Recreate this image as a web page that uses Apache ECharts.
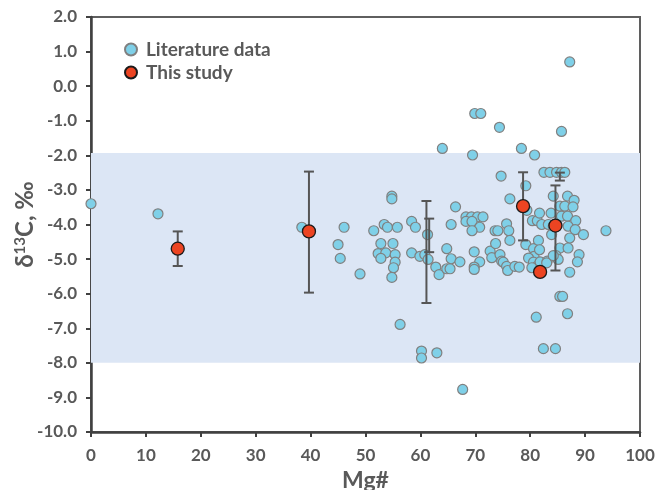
<!DOCTYPE html>
<html>
<head>
<meta charset="utf-8">
<script src="https://cdn.jsdelivr.net/npm/echarts@6/dist/echarts.min.js"></script>
<style>
html,body{margin:0;padding:0;background:#fff;}
#chart{width:670px;height:490px;}
</style>
</head>
<body>
<div id="chart"></div>
<script>
// Literature data (Mg#, δ13C)
const litMg = [0,12.2,38.4,46.1,45.0,45.4,49.0,
 51.5,53.4,54.0,55.8,52.8,55.0,52.3,53.7,52.8,55.4,55.4,55.1,54.8,54.8,54.8,56.3,
 58.4,59.1,61.3,58.4,59.9,60.8,61.4,60.2,60.2,63.0,67.7,
 62.8,63.4,64.8,65.4,64.8,65.6,67.2,65.6,66.4,64.0,69.5,69.9,71.0,74.4,
 68.3,69.3,70.4,71.4,68.3,69.4,70.8,69.4,69.8,70.8,69.8,69.8,
 72.7,73.0,73.7,74.5,74.8,75.1,75.7,75.9,77.2,78.0,73.6,74.1,75.7,76.1,76.3,76.3,74.7,
 78.4,80.8,79.2,79.4,79.2,80.6,81.5,80.7,79.7,80.6,81.2,80.3,81.8,80.4,81.3,81.7,82.1,81.7,81.1,82.4,
 82.5,83.6,84.8,85.7,86.3,
 84.2,86.8,88.0,85.4,86.3,87.8,83.8,85.7,86.8,88.3,83.3,84.2,86.9,88.2,89.7,83.9,87.2,85.4,86.9,
 83.1,84.7,85.1,88.9,88.6,87.2,85.4,85.9,86.8,84.6,85.7,87.2,93.8,83.0,84.2];
const litC = [-3.40,-3.69,-4.08,-4.08,-4.58,-4.98,-5.43,
 -4.18,-4.00,-4.08,-4.08,-4.55,-4.55,-4.84,-4.82,-4.98,-4.87,-5.09,-5.25,-5.53,-3.18,-3.26,-6.89,
 -3.91,-4.08,-4.29,-4.82,-4.92,-4.87,-5.01,-7.66,-7.86,-7.71,-8.77,
 -5.23,-5.45,-5.28,-5.28,-4.70,-4.99,-5.08,-4.00,-3.49,-1.80,-1.99,-0.79,-0.79,-1.19,
 -3.78,-3.78,-3.78,-3.78,-3.91,-3.91,-4.08,-4.18,-4.79,-5.08,-5.23,-5.30,
 -4.77,-4.96,-4.55,-4.87,-5.06,-5.09,-5.21,-5.33,-5.21,-5.23,-4.18,-4.18,-3.98,-4.18,-4.46,-3.26,-2.60,
 -1.80,-1.99,-2.88,-3.59,-4.58,-4.70,-4.46,-4.92,-4.97,-5.09,-5.21,-5.25,-5.08,-3.89,-3.89,-3.67,-4.00,-4.73,-6.68,-7.59,
 -2.49,-2.49,-2.49,-2.49,-2.49,
 -3.18,-3.18,-3.30,-3.47,-3.47,-3.49,-3.67,-3.76,-3.76,-3.89,-4.00,-4.05,-4.05,-4.15,-4.29,-4.29,-4.39,-4.68,-4.68,
 -5.06,-4.90,-5.01,-4.87,-5.08,-5.38,-6.08,-6.08,-6.58,-7.59,-1.31,0.70,-4.18,-5.11,-4.90];

// This study (Mg#, δ13C)
const thisMg = [15.8, 39.7, 78.7, 84.6, 81.8];
const thisC  = [-4.70, -4.20, -3.47, -4.03, -5.37];

// Error bars (Mg#, low, high)
const errMg   = [15.8, 39.7, 78.7, 84.6, 61.1, 61.6, 85.4];
const errLow  = [-5.20, -5.97, -4.46, -5.33, -6.27, -4.80, -2.73];
const errHigh = [-4.20, -2.47, -2.49, -2.87, -3.32, -3.83, -2.50];

// Shaded band (δ13C range)
const bandTop = -1.93, bandBottom = -8.0;

// Axis ticks
const xTicks = [0,10,20,30,40,50,60,70,80,90,100];
const yTicks = [2,1,0,-1,-2,-3,-4,-5,-6,-7,-8,-9,-10];

const FONT = 'Lato';
const TXT = '#595959';
const AX = '#404040';

const chart = echarts.init(document.getElementById('chart'), null, {renderer:'canvas'});
const option = {
  animation: false,
  textStyle: {fontFamily: FONT},
  grid: {left: 91, right: 30, top: 17, bottom: 58, containLabel: false, outerBoundsMode: 'none',
    show: true, borderColor: '#5f5f5f', borderWidth: 2, backgroundColor: 'transparent'},
  legend: {
    data: ['Literature data', 'This study'],
    orient: 'vertical', left: 119, top: 35, itemGap: 4,
    itemWidth: 12, itemHeight: 12,
    textStyle: {fontFamily: FONT, fontWeight: 'bold', fontSize: 19, color: TXT, padding: [0,0,0,4]}
  },
  xAxis: {
    type: 'value', min: xTicks[0], max: xTicks[xTicks.length-1], interval: 10,
    name: 'Mg#', nameLocation: 'middle', nameGap: 36,
    nameTextStyle: {fontFamily: FONT, fontWeight: 'bold', fontSize: 23, color: TXT},
    axisLine: {show: true, onZero: false, lineStyle: {color: AX, width: 2.5}},
    axisTick: {show: true, length: 5, lineStyle: {color: AX, width: 2}},
    splitLine: {show: false},
    axisLabel: {fontFamily: FONT, fontWeight: 'bold', fontSize: 17, color: TXT, margin: 15}
  },
  yAxis: {
    type: 'value', min: yTicks[yTicks.length-1], max: yTicks[0], interval: 1,
    name: '{a|δ}{s|13}{a|C, ‰}', nameLocation: 'middle', nameGap: 54, nameRotate: 90,
    nameMoveOverlap: false,
    nameTextStyle: {
      rich: {
        a: {fontFamily: FONT, fontWeight: 'bold', fontSize: 24, color: TXT},
        s: {fontFamily: FONT, fontWeight: 'bold', fontSize: 15, color: TXT, verticalAlign: 'top', padding: [0,0,7,0]}
      }
    },
    axisLine: {show: true, onZero: false, lineStyle: {color: AX, width: 2.5}},
    axisTick: {show: true, length: 5, lineStyle: {color: AX, width: 2}},
    splitLine: {show: false},
    axisLabel: {fontFamily: FONT, fontWeight: 'bold', fontSize: 17, color: TXT, margin: 14,
      formatter: v => v.toFixed(1)}
  },
  series: [
    {
      name: 'Literature data', type: 'scatter', z: 2,
      symbol: 'circle', symbolSize: 10,
      itemStyle: {color: '#7fd0e8', borderColor: '#808080', borderWidth: 1.2, opacity: 1},
      data: litMg.map((m,i) => [m, litC[i]]),
      markArea: {
        silent: true,
        itemStyle: {color: '#dce6f5'},
        data: [[{yAxis: bandTop}, {yAxis: bandBottom}]]
      }
    },
    {
      name: 'errors', type: 'custom', z: 3,
      renderItem: function(params, api) {
        const x = api.value(0), lo = api.value(1), hi = api.value(2);
        const p1 = api.coord([x, hi]), p2 = api.coord([x, lo]);
        const w = 5;
        const st = {stroke: '#555555', lineWidth: 2};
        return {type: 'group', children: [
          {type: 'line', shape: {x1: p1[0], y1: p1[1], x2: p2[0], y2: p2[1]}, style: st},
          {type: 'line', shape: {x1: p1[0]-w, y1: p1[1], x2: p1[0]+w, y2: p1[1]}, style: st},
          {type: 'line', shape: {x1: p2[0]-w, y1: p2[1], x2: p2[0]+w, y2: p2[1]}, style: st}
        ]};
      },
      data: errMg.map((m,i) => [m, errLow[i], errHigh[i]]),
      encode: {x: 0, y: [1,2]},
      silent: true
    },
    {
      name: 'This study', type: 'scatter', z: 4,
      symbol: 'circle', symbolSize: 13,
      itemStyle: {color: '#ec4422', borderColor: '#1a1a1a', borderWidth: 1.3, opacity: 1},
      data: thisMg.map((m,i) => [m, thisC[i]])
    }
  ]
};
chart.setOption(option);
</script>
</body>
</html>
